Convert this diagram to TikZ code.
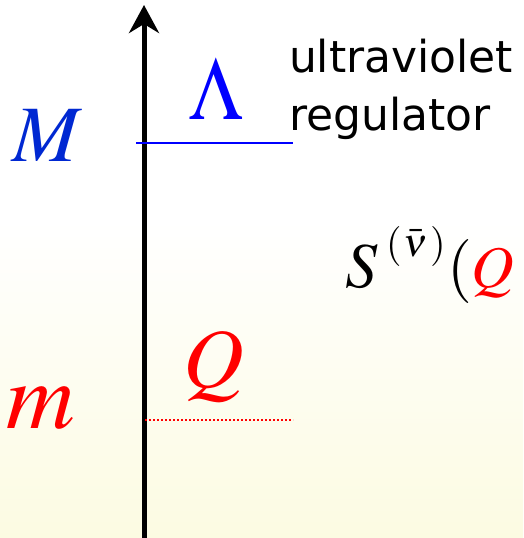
\documentclass[tikz,border=0pt]{standalone}
\usepackage{mathptmx}
\usepackage{fontspec}
\newfontfamily\labelfont{DejaVu Sans}
\usetikzlibrary{arrows.meta}
\definecolor{mblue}{RGB}{0,40,210}
\definecolor{lblue}{RGB}{0,0,255}
\definecolor{mred}{RGB}{255,0,0}
\definecolor{bgyellow}{RGB}{252,251,226}
\tikzset{
  lbl/.style={inner sep=0pt, outer sep=0pt},
  uvtext/.style={lbl, anchor=base west, font=\labelfont\fontsize{44}{48}\selectfont},
  bigmath/.style={lbl, anchor=base west, font=\fontsize{64}{66}\selectfont},
}
\begin{document}
\begin{tikzpicture}[x=1pt,y=-1pt]
\fill[white] (0,0) rectangle (523,220);
\shade[top color=white, bottom color=bgyellow] (0,220) rectangle (523,538);
\useasboundingbox (0,0) rectangle (523,538);
\coordinate (axbot) at (144,538);
\coordinate (axtop) at (144,5);
\coordinate (bl) at (136,143);
\coordinate (br) at (293,143);
\coordinate (rl) at (145,420);
\coordinate (rr) at (293,420);
\draw[line width=5pt, -{Stealth[length=28pt,width=30pt,inset=9pt]}] (axbot) -- (axtop);
\draw[lblue, line width=1.3pt] (bl) -- (br);
\draw[mred, line width=1.6pt, dash pattern=on 1.6pt off 2.4pt] (rl) -- (rr);
\node[lbl, text=mblue, font=\fontsize{80}{82}\selectfont] (M) at (47,136) {$M$};
\node[lbl, text=lblue, font=\fontsize{78}{82}\selectfont] (Lam) at (216,89) {\scalebox{1}[1.15]{$\Lambda$}};
\node[lbl, text=mred, font=\fontsize{95}{98}\selectfont] (m) at (41,408) {$m$};
\node[lbl, text=mred, font=\fontsize{84}{86}\selectfont] (Q) at (214,367) {$Q$};
\node[uvtext] (uv) at (289,72) {ultraviolet};
\node[uvtext] (reg) at (289,130) {regulator};
\node[bigmath] (S) at (345,287) {$S$};
\node[lbl, anchor=base west, font=\fontsize{40}{42}\selectfont] (Ssup) at (386,256) {$(\mkern1mu\bar\nu\mkern1mu)$};
\node[bigmath] (Sarg) at (447,287) {$($\textcolor{mred}{\fontsize{59}{60}\selectfont$Q$}};
\end{tikzpicture}
\end{document}
